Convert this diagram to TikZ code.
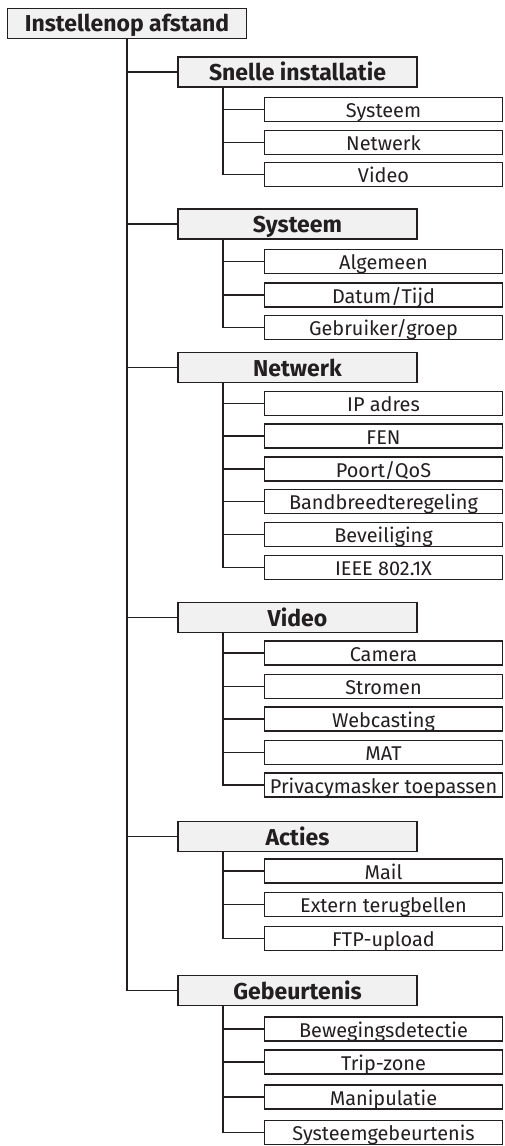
\documentclass[tikz,border=0pt]{standalone}
\usepackage{fontspec}
\setmainfont{Fira Sans}
\definecolor{ink}{HTML}{231F20}
\definecolor{panel}{HTML}{F1F1F2}

\tikzset{
  rootbox/.style={draw=ink, fill=panel, line width=1.6pt, inner sep=0pt,
    minimum width=239pt, minimum height=30pt, text=ink,
    font=\fontsize{23}{23}\selectfont\bfseries, text height=16.4pt, text depth=0pt},
  groupbox/.style={rootbox, font=\fontsize{23}{23}\selectfont\bfseries, text height=17.4pt},
  itembox/.style={draw=ink, fill=white, line width=1.6pt, inner sep=0pt,
    minimum width=238pt, minimum height=24pt, text=ink,
    font=\fontsize{19.9}{19.9}\selectfont, text height=16.4pt, text depth=0pt},
  link/.style={draw=ink, line width=1.6pt}
}

\begin{document}
\begin{tikzpicture}[x=1pt, y=-1pt]

\useasboundingbox (0,0) rectangle (504,1146);

% Root
\node[rootbox] (root) at (127,23.5) {Instellenop afstand};

% Groups
\node[groupbox] (sn) at (297.5,72) {Snelle installatie};
\node[groupbox] (sy) at (297.5,224) {Systeem};
\node[groupbox] (nw) at (297.5,367.5) {Netwerk};
\node[groupbox] (vd) at (297.5,617.5) {Video};
\node[groupbox] (ac) at (297.5,836.5) {Acties};
\node[groupbox] (gb) at (297.5,990.5) {Gebeurtenis};

% Snelle installatie
\node[itembox] (sn1) at (383.5,109.5) {Systeem};
\node[itembox] (sn2) at (383.5,142.5) {Netwerk};
\node[itembox] (sn3) at (383.5,174.5) {Video};

% Systeem
\node[itembox] (sy1) at (383.5,261.5) {Algemeen};
\node[itembox] (sy2) at (383.5,295) {Datum/Tijd};
\node[itembox] (sy3) at (383.5,327.5) {Gebruiker/groep};

% Netwerk
\node[itembox] (nw1) at (383.5,403.5) {IP adres};
\node[itembox] (nw2) at (383.5,436) {FEN};
\node[itembox] (nw3) at (383.5,469) {Poort/QoS};
\node[itembox] (nw4) at (383.5,501.5) {Bandbreedteregeling};
\node[itembox] (nw5) at (383.5,534.5) {Beveiliging};
\node[itembox] (nw6) at (383.5,567.5) {IEEE 802.1X};

% Video
\node[itembox] (vd1) at (383.5,653) {Camera};
\node[itembox] (vd2) at (383.5,686.5) {Stromen};
\node[itembox] (vd3) at (383.5,719) {Webcasting};
\node[itembox] (vd4) at (383.5,752.5) {MAT};
\node[itembox] (vd5) at (383.5,785) {Privacymasker toepassen};

% Acties
\node[itembox] (ac1) at (383.5,871) {Mail};
\node[itembox] (ac2) at (383.5,904.5) {Extern terugbellen};
\node[itembox] (ac3) at (383.5,938.5) {FTP-upload};

% Gebeurtenis
\node[itembox] (gb1) at (383.5,1029) {Bewegingsdetectie};
\node[itembox] (gb2) at (383.5,1062) {Trip-zone};
\node[itembox] (gb3) at (383.5,1097) {Manipulatie};
\node[itembox] (gb4) at (383.5,1132.5) {Systeemgebeurtenis};

% Main trunk
\foreach \g in {sn,sy,nw,vd,ac,gb}
  \draw[link] (root.south) |- (\g.west);

% Group trunks
\foreach \g/\c in {sn/sn1,sn/sn2,sn/sn3,sy/sy1,sy/sy2,sy/sy3,
    nw/nw1,nw/nw2,nw/nw3,nw/nw4,nw/nw5,nw/nw6,
    vd/vd1,vd/vd2,vd/vd3,vd/vd4,vd/vd5,
    ac/ac1,ac/ac2,ac/ac3,gb/gb1,gb/gb2,gb/gb3,gb/gb4}
  \draw[link] (\g.south west) ++(46,0) |- (\c.west);

\end{tikzpicture}
\end{document}
